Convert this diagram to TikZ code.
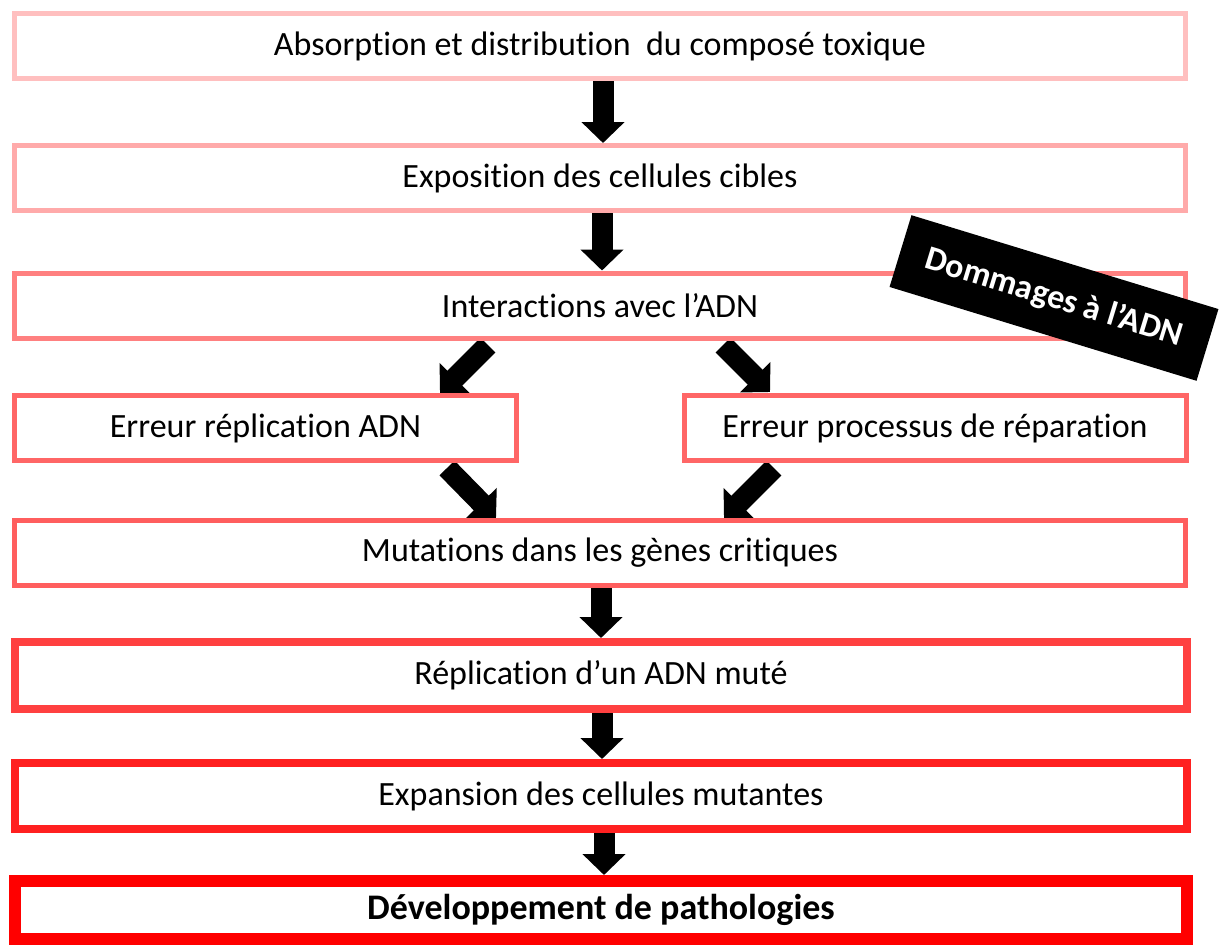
\documentclass[tikz,border=0pt]{standalone}
\usepackage{fontspec}
\setmainfont[Ligatures=NoCommon]{Carlito}
\usetikzlibrary{arrows.meta,backgrounds}
\definecolor{c1}{HTML}{FFBFBF}
\definecolor{c2}{HTML}{FFAAAA}
\definecolor{c3}{HTML}{FF8080}
\definecolor{c4}{HTML}{FF6666}
\definecolor{c5}{HTML}{FF5E5E}
\definecolor{c6}{HTML}{FF4040}
\definecolor{c7}{HTML}{FF2020}
\definecolor{c8}{HTML}{FF0000}
\tikzset{
  box/.style={draw, fill=white, minimum height=65, inner sep=0, font=\fontsize{34}{40}\selectfont, line width=5},
  widebox/.style={box, minimum width=1171},
  halfbox/.style={box, minimum width=502},
  bigarrow/.style={line width=21, -{Triangle[length=21,width=42]}, black},
}
\begin{document}
\begin{tikzpicture}[x=1pt,y=-1pt]
\useasboundingbox (0,0) rectangle (1219,946);
\clip (0,0) rectangle (1219,946);
\node[widebox, draw=c1] (b1) at (600,46) {Absorption et distribution~ du composé toxique};
\node[widebox, draw=c2] (b2) at (600,178) {Exposition des cellules cibles};
\node[widebox, draw=c3] (b3) at (600,305.5) {Interactions avec l’ADN};
\node[halfbox, draw=c4] (b4a) at (265.5,428) {Erreur réplication ADN};
\node[halfbox, draw=c4] (b4b) at (935,428) {Erreur processus de réparation};
\node[widebox, draw=c5] (b5) at (600,553) {Mutations dans les gènes critiques};
\node[widebox, draw=c6, line width=8, minimum width=1172, minimum height=67] (b6) at (601,675.5) {Réplication d’un ADN muté};
\node[widebox, draw=c7, line width=8, minimum width=1172, minimum height=66] (b7) at (601,796) {Expansion des cellules mutantes};
\node[widebox, draw=c8, line width=12, minimum width=1172, minimum height=58, font=\fontsize{36}{42}\selectfont\bfseries] (b8) at (601,910) {Développement de pathologies};
\node[fill=black, text=white, font=\fontsize{34}{40}\selectfont\bfseries, rotate=-17, minimum width=321, minimum height=75, inner sep=0] (dmg) at (1054,298) {Dommages à l’ADN};
\coordinate (t1) at (488,345);
\coordinate (h1) at (440,393);
\coordinate (t2) at (723,345);
\coordinate (h2) at (770,392);
\coordinate (t3) at (447,468);
\coordinate (h3) at (496,518);
\coordinate (t4) at (774,468);
\coordinate (h4) at (724,518);
\begin{scope}[on background layer]
\draw[bigarrow] (b1.south -| 603,0) -- (b2.north -| 603,0);
\draw[bigarrow] (b2.south -| 602,0) -- (b3.north -| 602,0);
\draw[bigarrow] (t1) -- (h1);
\draw[bigarrow] (t2) -- (h2);
\draw[bigarrow] (t3) -- (h3);
\draw[bigarrow] (t4) -- (h4);
\draw[bigarrow] (b5.south -| 601,0) -- (b6.north -| 601,0);
\draw[bigarrow] (b6.south -| 602,0) -- (b7.north -| 602,0);
\draw[bigarrow] (b7.south -| 604,0) -- (b8.north -| 604,0);
\end{scope}
\end{tikzpicture}
\end{document}
